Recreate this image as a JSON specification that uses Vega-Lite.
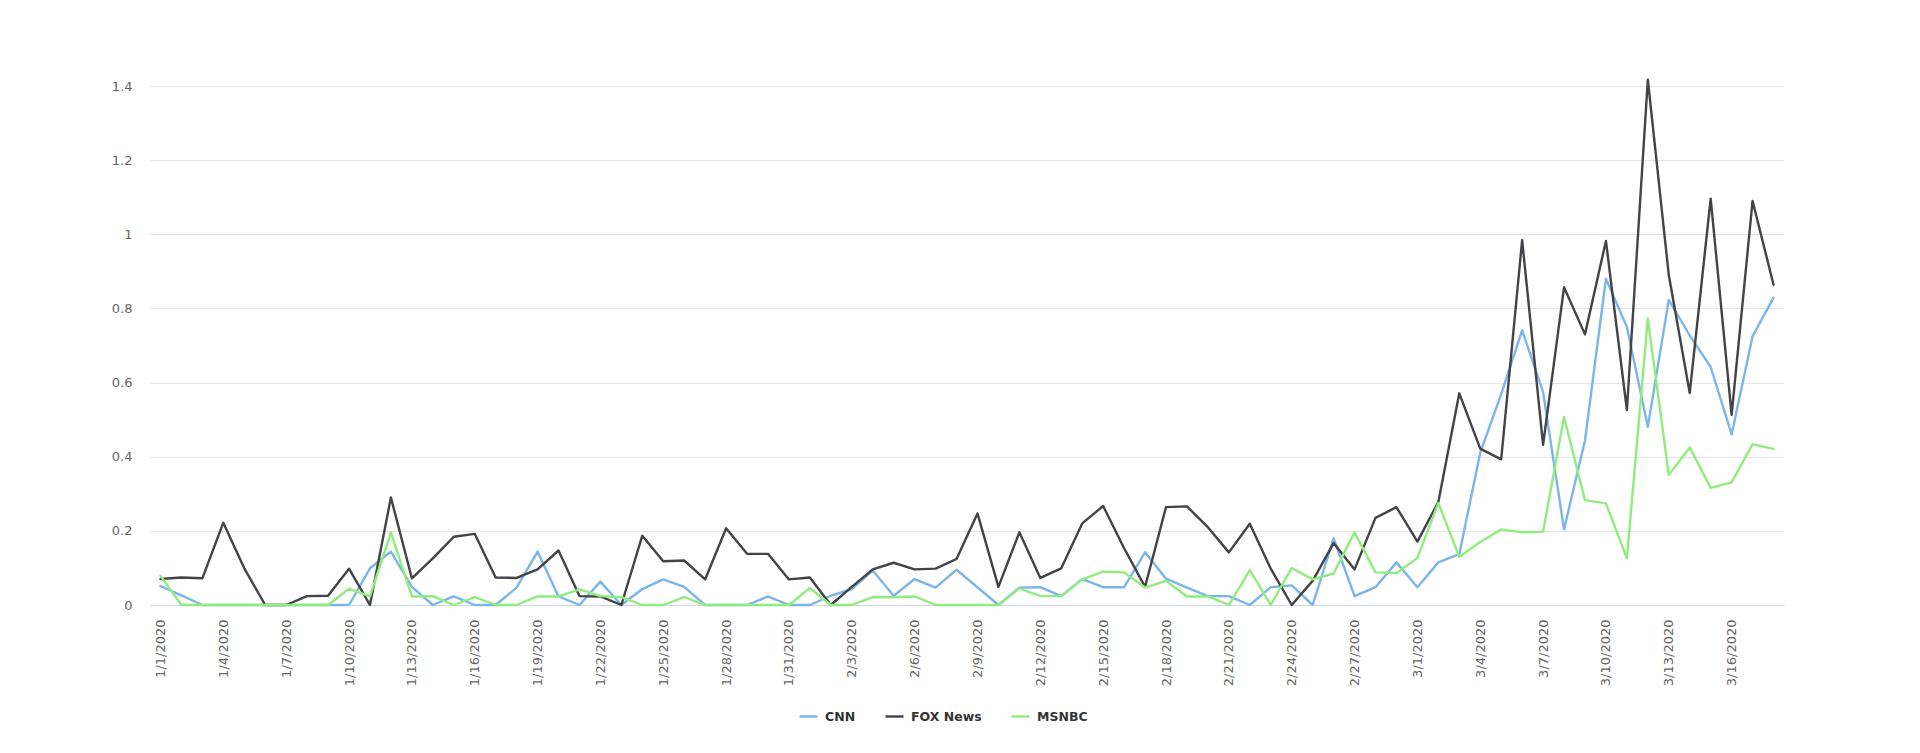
{
  "$schema": "https://vega.github.io/schema/vega-lite/v6.json",
  "width": 1634,
  "height": 519,
  "autosize": "none",
  "padding": {"left": 150, "top": 86, "right": 136, "bottom": 148},
  "background": "white",
  "data": {
    "values": [
      {"date": "1/1/2020", "network": "CNN", "value": 0.051},
      {"date": "1/2/2020", "network": "CNN", "value": 0.026},
      {"date": "1/3/2020", "network": "CNN", "value": 0},
      {"date": "1/4/2020", "network": "CNN", "value": 0},
      {"date": "1/5/2020", "network": "CNN", "value": 0},
      {"date": "1/6/2020", "network": "CNN", "value": 0},
      {"date": "1/7/2020", "network": "CNN", "value": 0},
      {"date": "1/8/2020", "network": "CNN", "value": 0},
      {"date": "1/9/2020", "network": "CNN", "value": 0},
      {"date": "1/10/2020", "network": "CNN", "value": 0},
      {"date": "1/11/2020", "network": "CNN", "value": 0.099},
      {"date": "1/12/2020", "network": "CNN", "value": 0.144},
      {"date": "1/13/2020", "network": "CNN", "value": 0.049},
      {"date": "1/14/2020", "network": "CNN", "value": 0},
      {"date": "1/15/2020", "network": "CNN", "value": 0.023},
      {"date": "1/16/2020", "network": "CNN", "value": 0},
      {"date": "1/17/2020", "network": "CNN", "value": 0},
      {"date": "1/18/2020", "network": "CNN", "value": 0.047},
      {"date": "1/19/2020", "network": "CNN", "value": 0.144},
      {"date": "1/20/2020", "network": "CNN", "value": 0.023},
      {"date": "1/21/2020", "network": "CNN", "value": 0},
      {"date": "1/22/2020", "network": "CNN", "value": 0.063},
      {"date": "1/23/2020", "network": "CNN", "value": 0},
      {"date": "1/24/2020", "network": "CNN", "value": 0.043},
      {"date": "1/25/2020", "network": "CNN", "value": 0.069},
      {"date": "1/26/2020", "network": "CNN", "value": 0.049},
      {"date": "1/27/2020", "network": "CNN", "value": 0},
      {"date": "1/28/2020", "network": "CNN", "value": 0},
      {"date": "1/29/2020", "network": "CNN", "value": 0},
      {"date": "1/30/2020", "network": "CNN", "value": 0.023},
      {"date": "1/31/2020", "network": "CNN", "value": 0},
      {"date": "2/1/2020", "network": "CNN", "value": 0},
      {"date": "2/2/2020", "network": "CNN", "value": 0.025},
      {"date": "2/3/2020", "network": "CNN", "value": 0.043},
      {"date": "2/4/2020", "network": "CNN", "value": 0.093},
      {"date": "2/5/2020", "network": "CNN", "value": 0.025},
      {"date": "2/6/2020", "network": "CNN", "value": 0.070},
      {"date": "2/7/2020", "network": "CNN", "value": 0.047},
      {"date": "2/8/2020", "network": "CNN", "value": 0.095},
      {"date": "2/9/2020", "network": "CNN", "value": 0.048},
      {"date": "2/10/2020", "network": "CNN", "value": 0},
      {"date": "2/11/2020", "network": "CNN", "value": 0.047},
      {"date": "2/12/2020", "network": "CNN", "value": 0.048},
      {"date": "2/13/2020", "network": "CNN", "value": 0.024},
      {"date": "2/14/2020", "network": "CNN", "value": 0.070},
      {"date": "2/15/2020", "network": "CNN", "value": 0.048},
      {"date": "2/16/2020", "network": "CNN", "value": 0.048},
      {"date": "2/17/2020", "network": "CNN", "value": 0.142},
      {"date": "2/18/2020", "network": "CNN", "value": 0.071},
      {"date": "2/19/2020", "network": "CNN", "value": 0.047},
      {"date": "2/20/2020", "network": "CNN", "value": 0.024},
      {"date": "2/21/2020", "network": "CNN", "value": 0.024},
      {"date": "2/22/2020", "network": "CNN", "value": 0},
      {"date": "2/23/2020", "network": "CNN", "value": 0.048},
      {"date": "2/24/2020", "network": "CNN", "value": 0.053},
      {"date": "2/25/2020", "network": "CNN", "value": 0},
      {"date": "2/26/2020", "network": "CNN", "value": 0.180},
      {"date": "2/27/2020", "network": "CNN", "value": 0.024},
      {"date": "2/28/2020", "network": "CNN", "value": 0.048},
      {"date": "2/29/2020", "network": "CNN", "value": 0.115},
      {"date": "3/1/2020", "network": "CNN", "value": 0.048},
      {"date": "3/2/2020", "network": "CNN", "value": 0.115},
      {"date": "3/3/2020", "network": "CNN", "value": 0.137},
      {"date": "3/4/2020", "network": "CNN", "value": 0.411},
      {"date": "3/5/2020", "network": "CNN", "value": 0.569},
      {"date": "3/6/2020", "network": "CNN", "value": 0.741},
      {"date": "3/7/2020", "network": "CNN", "value": 0.574},
      {"date": "3/8/2020", "network": "CNN", "value": 0.204},
      {"date": "3/9/2020", "network": "CNN", "value": 0.444},
      {"date": "3/10/2020", "network": "CNN", "value": 0.880},
      {"date": "3/11/2020", "network": "CNN", "value": 0.750},
      {"date": "3/12/2020", "network": "CNN", "value": 0.481},
      {"date": "3/13/2020", "network": "CNN", "value": 0.823},
      {"date": "3/14/2020", "network": "CNN", "value": 0.727},
      {"date": "3/15/2020", "network": "CNN", "value": 0.642},
      {"date": "3/16/2020", "network": "CNN", "value": 0.460},
      {"date": "3/17/2020", "network": "CNN", "value": 0.725},
      {"date": "3/18/2020", "network": "CNN", "value": 0.829},

      {"date": "1/1/2020", "network": "FOX News", "value": 0.070},
      {"date": "1/2/2020", "network": "FOX News", "value": 0.074},
      {"date": "1/3/2020", "network": "FOX News", "value": 0.072},
      {"date": "1/4/2020", "network": "FOX News", "value": 0.222},
      {"date": "1/5/2020", "network": "FOX News", "value": 0.099},
      {"date": "1/6/2020", "network": "FOX News", "value": 0},
      {"date": "1/7/2020", "network": "FOX News", "value": 0},
      {"date": "1/8/2020", "network": "FOX News", "value": 0.024},
      {"date": "1/9/2020", "network": "FOX News", "value": 0.025},
      {"date": "1/10/2020", "network": "FOX News", "value": 0.098},
      {"date": "1/11/2020", "network": "FOX News", "value": 0},
      {"date": "1/12/2020", "network": "FOX News", "value": 0.290},
      {"date": "1/13/2020", "network": "FOX News", "value": 0.072},
      {"date": "1/14/2020", "network": "FOX News", "value": 0.126},
      {"date": "1/15/2020", "network": "FOX News", "value": 0.184},
      {"date": "1/16/2020", "network": "FOX News", "value": 0.192},
      {"date": "1/17/2020", "network": "FOX News", "value": 0.074},
      {"date": "1/18/2020", "network": "FOX News", "value": 0.073},
      {"date": "1/19/2020", "network": "FOX News", "value": 0.096},
      {"date": "1/20/2020", "network": "FOX News", "value": 0.147},
      {"date": "1/21/2020", "network": "FOX News", "value": 0.024},
      {"date": "1/22/2020", "network": "FOX News", "value": 0.023},
      {"date": "1/23/2020", "network": "FOX News", "value": 0},
      {"date": "1/24/2020", "network": "FOX News", "value": 0.187},
      {"date": "1/25/2020", "network": "FOX News", "value": 0.118},
      {"date": "1/26/2020", "network": "FOX News", "value": 0.120},
      {"date": "1/27/2020", "network": "FOX News", "value": 0.069},
      {"date": "1/28/2020", "network": "FOX News", "value": 0.207},
      {"date": "1/29/2020", "network": "FOX News", "value": 0.138},
      {"date": "1/30/2020", "network": "FOX News", "value": 0.138},
      {"date": "1/31/2020", "network": "FOX News", "value": 0.069},
      {"date": "2/1/2020", "network": "FOX News", "value": 0.074},
      {"date": "2/2/2020", "network": "FOX News", "value": 0},
      {"date": "2/3/2020", "network": "FOX News", "value": 0.049},
      {"date": "2/4/2020", "network": "FOX News", "value": 0.096},
      {"date": "2/5/2020", "network": "FOX News", "value": 0.114},
      {"date": "2/6/2020", "network": "FOX News", "value": 0.096},
      {"date": "2/7/2020", "network": "FOX News", "value": 0.098},
      {"date": "2/8/2020", "network": "FOX News", "value": 0.124},
      {"date": "2/9/2020", "network": "FOX News", "value": 0.247},
      {"date": "2/10/2020", "network": "FOX News", "value": 0.049},
      {"date": "2/11/2020", "network": "FOX News", "value": 0.196},
      {"date": "2/12/2020", "network": "FOX News", "value": 0.073},
      {"date": "2/13/2020", "network": "FOX News", "value": 0.099},
      {"date": "2/14/2020", "network": "FOX News", "value": 0.220},
      {"date": "2/15/2020", "network": "FOX News", "value": 0.267},
      {"date": "2/16/2020", "network": "FOX News", "value": 0.153},
      {"date": "2/17/2020", "network": "FOX News", "value": 0.049},
      {"date": "2/18/2020", "network": "FOX News", "value": 0.264},
      {"date": "2/19/2020", "network": "FOX News", "value": 0.266},
      {"date": "2/20/2020", "network": "FOX News", "value": 0.210},
      {"date": "2/21/2020", "network": "FOX News", "value": 0.142},
      {"date": "2/22/2020", "network": "FOX News", "value": 0.219},
      {"date": "2/23/2020", "network": "FOX News", "value": 0.098},
      {"date": "2/24/2020", "network": "FOX News", "value": 0},
      {"date": "2/25/2020", "network": "FOX News", "value": 0.065},
      {"date": "2/26/2020", "network": "FOX News", "value": 0.167},
      {"date": "2/27/2020", "network": "FOX News", "value": 0.096},
      {"date": "2/28/2020", "network": "FOX News", "value": 0.235},
      {"date": "2/29/2020", "network": "FOX News", "value": 0.264},
      {"date": "3/1/2020", "network": "FOX News", "value": 0.171},
      {"date": "3/2/2020", "network": "FOX News", "value": 0.278},
      {"date": "3/3/2020", "network": "FOX News", "value": 0.571},
      {"date": "3/4/2020", "network": "FOX News", "value": 0.422},
      {"date": "3/5/2020", "network": "FOX News", "value": 0.393},
      {"date": "3/6/2020", "network": "FOX News", "value": 0.984},
      {"date": "3/7/2020", "network": "FOX News", "value": 0.432},
      {"date": "3/8/2020", "network": "FOX News", "value": 0.857},
      {"date": "3/9/2020", "network": "FOX News", "value": 0.730},
      {"date": "3/10/2020", "network": "FOX News", "value": 0.982},
      {"date": "3/11/2020", "network": "FOX News", "value": 0.526},
      {"date": "3/12/2020", "network": "FOX News", "value": 1.417},
      {"date": "3/13/2020", "network": "FOX News", "value": 0.890},
      {"date": "3/14/2020", "network": "FOX News", "value": 0.572},
      {"date": "3/15/2020", "network": "FOX News", "value": 1.096},
      {"date": "3/16/2020", "network": "FOX News", "value": 0.513},
      {"date": "3/17/2020", "network": "FOX News", "value": 1.090},
      {"date": "3/18/2020", "network": "FOX News", "value": 0.864},

      {"date": "1/1/2020", "network": "MSNBC", "value": 0.079},
      {"date": "1/2/2020", "network": "MSNBC", "value": 0},
      {"date": "1/3/2020", "network": "MSNBC", "value": 0},
      {"date": "1/4/2020", "network": "MSNBC", "value": 0},
      {"date": "1/5/2020", "network": "MSNBC", "value": 0},
      {"date": "1/6/2020", "network": "MSNBC", "value": 0},
      {"date": "1/7/2020", "network": "MSNBC", "value": 0},
      {"date": "1/8/2020", "network": "MSNBC", "value": 0},
      {"date": "1/9/2020", "network": "MSNBC", "value": 0},
      {"date": "1/10/2020", "network": "MSNBC", "value": 0.044},
      {"date": "1/11/2020", "network": "MSNBC", "value": 0.023},
      {"date": "1/12/2020", "network": "MSNBC", "value": 0.195},
      {"date": "1/13/2020", "network": "MSNBC", "value": 0.023},
      {"date": "1/14/2020", "network": "MSNBC", "value": 0.024},
      {"date": "1/15/2020", "network": "MSNBC", "value": 0},
      {"date": "1/16/2020", "network": "MSNBC", "value": 0.021},
      {"date": "1/17/2020", "network": "MSNBC", "value": 0},
      {"date": "1/18/2020", "network": "MSNBC", "value": 0},
      {"date": "1/19/2020", "network": "MSNBC", "value": 0.023},
      {"date": "1/20/2020", "network": "MSNBC", "value": 0.023},
      {"date": "1/21/2020", "network": "MSNBC", "value": 0.042},
      {"date": "1/22/2020", "network": "MSNBC", "value": 0.024},
      {"date": "1/23/2020", "network": "MSNBC", "value": 0.021},
      {"date": "1/24/2020", "network": "MSNBC", "value": 0},
      {"date": "1/25/2020", "network": "MSNBC", "value": 0},
      {"date": "1/26/2020", "network": "MSNBC", "value": 0.021},
      {"date": "1/27/2020", "network": "MSNBC", "value": 0},
      {"date": "1/28/2020", "network": "MSNBC", "value": 0},
      {"date": "1/29/2020", "network": "MSNBC", "value": 0},
      {"date": "1/30/2020", "network": "MSNBC", "value": 0},
      {"date": "1/31/2020", "network": "MSNBC", "value": 0},
      {"date": "2/1/2020", "network": "MSNBC", "value": 0.046},
      {"date": "2/2/2020", "network": "MSNBC", "value": 0},
      {"date": "2/3/2020", "network": "MSNBC", "value": 0},
      {"date": "2/4/2020", "network": "MSNBC", "value": 0.021},
      {"date": "2/5/2020", "network": "MSNBC", "value": 0.021},
      {"date": "2/6/2020", "network": "MSNBC", "value": 0.023},
      {"date": "2/7/2020", "network": "MSNBC", "value": 0},
      {"date": "2/8/2020", "network": "MSNBC", "value": 0},
      {"date": "2/9/2020", "network": "MSNBC", "value": 0},
      {"date": "2/10/2020", "network": "MSNBC", "value": 0},
      {"date": "2/11/2020", "network": "MSNBC", "value": 0.045},
      {"date": "2/12/2020", "network": "MSNBC", "value": 0.024},
      {"date": "2/13/2020", "network": "MSNBC", "value": 0.024},
      {"date": "2/14/2020", "network": "MSNBC", "value": 0.069},
      {"date": "2/15/2020", "network": "MSNBC", "value": 0.090},
      {"date": "2/16/2020", "network": "MSNBC", "value": 0.088},
      {"date": "2/17/2020", "network": "MSNBC", "value": 0.047},
      {"date": "2/18/2020", "network": "MSNBC", "value": 0.065},
      {"date": "2/19/2020", "network": "MSNBC", "value": 0.023},
      {"date": "2/20/2020", "network": "MSNBC", "value": 0.023},
      {"date": "2/21/2020", "network": "MSNBC", "value": 0},
      {"date": "2/22/2020", "network": "MSNBC", "value": 0.094},
      {"date": "2/23/2020", "network": "MSNBC", "value": 0},
      {"date": "2/24/2020", "network": "MSNBC", "value": 0.100},
      {"date": "2/25/2020", "network": "MSNBC", "value": 0.069},
      {"date": "2/26/2020", "network": "MSNBC", "value": 0.085},
      {"date": "2/27/2020", "network": "MSNBC", "value": 0.196},
      {"date": "2/28/2020", "network": "MSNBC", "value": 0.088},
      {"date": "2/29/2020", "network": "MSNBC", "value": 0.086},
      {"date": "3/1/2020", "network": "MSNBC", "value": 0.127},
      {"date": "3/2/2020", "network": "MSNBC", "value": 0.275},
      {"date": "3/3/2020", "network": "MSNBC", "value": 0.130},
      {"date": "3/4/2020", "network": "MSNBC", "value": 0.170},
      {"date": "3/5/2020", "network": "MSNBC", "value": 0.204},
      {"date": "3/6/2020", "network": "MSNBC", "value": 0.196},
      {"date": "3/7/2020", "network": "MSNBC", "value": 0.198},
      {"date": "3/8/2020", "network": "MSNBC", "value": 0.507},
      {"date": "3/9/2020", "network": "MSNBC", "value": 0.283},
      {"date": "3/10/2020", "network": "MSNBC", "value": 0.274},
      {"date": "3/11/2020", "network": "MSNBC", "value": 0.126},
      {"date": "3/12/2020", "network": "MSNBC", "value": 0.773},
      {"date": "3/13/2020", "network": "MSNBC", "value": 0.351},
      {"date": "3/14/2020", "network": "MSNBC", "value": 0.425},
      {"date": "3/15/2020", "network": "MSNBC", "value": 0.316},
      {"date": "3/16/2020", "network": "MSNBC", "value": 0.331},
      {"date": "3/17/2020", "network": "MSNBC", "value": 0.434},
      {"date": "3/18/2020", "network": "MSNBC", "value": 0.421}
    ]
  },
  "mark": {
    "type": "line",
    "strokeWidth": 2.4,
    "strokeJoin": "round",
    "strokeCap": "round"
  },
  "encoding": {
    "x": {
      "field": "date",
      "type": "ordinal",
      "sort": null,
      "scale": {"type": "point", "padding": 0.5},
      "axis": {
        "title": null,
        "labelAngle": 270,
        "labelPadding": 14,
        "ticks": false,
        "grid": false,
        "domainColor": "#ccd6eb",
        "domainWidth": 1,
        "values": [
          "1/1/2020", "1/4/2020", "1/7/2020", "1/10/2020", "1/13/2020",
          "1/16/2020", "1/19/2020", "1/22/2020", "1/25/2020", "1/28/2020",
          "1/31/2020", "2/3/2020", "2/6/2020", "2/9/2020", "2/12/2020",
          "2/15/2020", "2/18/2020", "2/21/2020", "2/24/2020", "2/27/2020",
          "3/1/2020", "3/4/2020", "3/7/2020", "3/10/2020", "3/13/2020",
          "3/16/2020"
        ]
      }
    },
    "y": {
      "field": "value",
      "type": "quantitative",
      "scale": {"domain": [0, 1.4], "nice": false},
      "axis": {
        "title": null,
        "values": [0, 0.2, 0.4, 0.6, 0.8, 1, 1.2, 1.4],
        "format": "~g",
        "domain": false,
        "ticks": false,
        "labelPadding": 18,
        "gridColor": "#e6e6e6",
        "gridWidth": 1
      }
    },
    "color": {
      "field": "network",
      "type": "nominal",
      "scale": {
        "domain": ["CNN", "FOX News", "MSNBC"],
        "range": ["#7cb5ec", "#434348", "#90ed7d"]
      },
      "legend": {
        "title": null,
        "orient": "none",
        "direction": "horizontal",
        "legendX": 648,
        "legendY": 620,
        "symbolType": "stroke",
        "symbolSize": 324,
        "symbolStrokeWidth": 2.4,
        "labelOffset": 6,
        "columnPadding": 24,
        "labelFont": "DejaVu Sans",
        "labelFontWeight": "bold",
        "labelFontSize": 12.5,
        "labelColor": "#333333",
        "padding": 0
      }
    }
  },
  "config": {
    "view": {"stroke": null},
    "axis": {
      "labelFont": "DejaVu Sans",
      "labelFontSize": 13,
      "labelColor": "#666666"
    }
  }
}
